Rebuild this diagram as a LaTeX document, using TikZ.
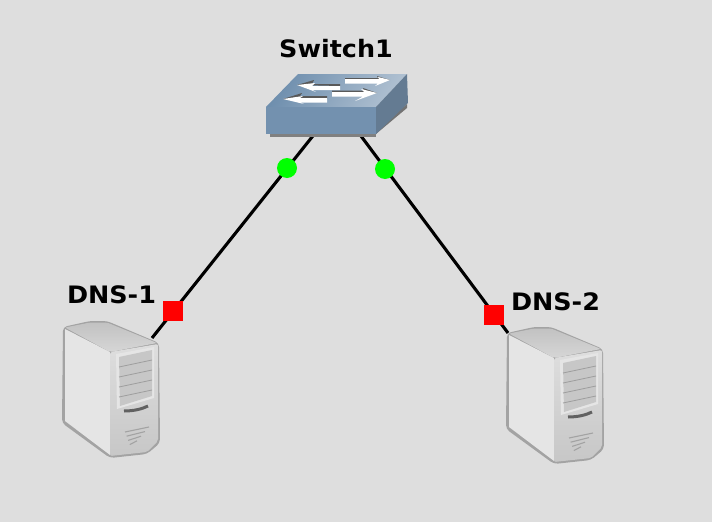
\documentclass[tikz,border=0pt]{standalone}
\usepackage{fontspec}
\setmainfont{DejaVu Sans}
\definecolor{bgc}{HTML}{DEDEDE}
\definecolor{swtopa}{HTML}{6F8FAE}
\definecolor{swtopb}{HTML}{AFC0D1}
\definecolor{swfront}{HTML}{7391AF}
\definecolor{swside}{HTML}{647B92}
\tikzset{
  lbl/.style={font=\bfseries\fontsize{24}{26}\selectfont,text=black,inner sep=0pt,xscale=1.06},
  link/.style={line width=3.1pt,black},
  okdot/.style={circle,fill=green,minimum size=20pt,inner sep=0pt},
  downsq/.style={rectangle,fill=red,minimum size=20pt,inner sep=0pt},
  hitbox/.style={inner sep=0pt,minimum width=96pt,minimum height=136pt},
  arrowtop/.style={fill=white},
  arrowshade/.style={fill=black!65},
  pics/server/.style={code={
    \fill[black!36,rounded corners=4pt] (63,327) -- (90,321) -- (107,321) -- (159,343) -- (160,443) -- (147,454) -- (110,458) -- (62,423) -- cycle;
    \fill[black!10] (65,329) -- (110,352) -- (110,455) -- (65,421) -- cycle;
    \shade[top color=black!24,bottom color=black!16,rounded corners=2pt] (65,327.5) -- (90,322.5) -- (107,322.5) -- (157,343) -- (110,352) -- cycle;
    \shade[top color=black!13,bottom color=black!22,rounded corners=2pt] (110,352) -- (158,344) -- (158,441) -- (147,452) -- (110,456) -- cycle;
    \fill[black!10] (116,354) -- (154,347) -- (154,398) -- (117,409) -- cycle;
    \fill[black!22] (119,357) -- (152,350) -- (152,396) -- (120,406) -- cycle;
    \foreach \d in {0,10,20,30}{\draw[black!38,line width=.8pt] (119,{367+\d}) -- (152,{360+\d});}
    \draw[black!62,line width=3pt] (124,411) .. controls (134,411) and (142,409) .. (148,406);
    \foreach \d in {0,4,8,12}{\draw[black!36,line width=1.1pt] ({125+\d*.4},{432+\d*1.05}) -- ({149-\d*1},{427+\d*1.15});}
  }}
}
\begin{document}
\begin{tikzpicture}[x=1pt,y=-1pt]
\useasboundingbox[fill=bgc] (0,0) rectangle (712,522);
% named anchor nodes
\node[inner sep=0pt,minimum width=110pt,minimum height=27pt] (sw) at (321,120.5) {};
\node[hitbox] (dnsa) at (111,389) {};
\node[hitbox] (dnsb) at (555,395) {};
\coordinate (swl) at (316,132);
\coordinate (swr) at (358,132);
\coordinate (dnsap) at (152,338);
\coordinate (dnsbp) at (508,333);
% connectors
\draw[link] (swl) -- (dnsap);
\draw[link] (swr) -- (dnsbp);
% switch
\fill[black!50] (270,134) rectangle (376,137);
\fill[black!55] (376,134) -- (407,108) -- (407,104) -- (376,130) -- cycle;
\shade[left color=swtopa,right color=swtopb,shading angle=60] (298,74) -- (407,74) -- (376,107) -- (266,107) -- cycle;
\fill[swfront] (266,107) rectangle (376,134);
\fill[swside] (376,107) -- (407,74) -- (408,103) -- (376,134) -- cycle;
% switch arrows
\fill[arrowshade] (297,85) -- (314,80) -- (312,84) -- (340,84) -- (340,86) -- cycle;
\fill[arrowtop] (297,85) -- (316,92) -- (312,90) -- (340,90) -- (340,86) -- (312,86) -- (315,83) -- cycle;
\fill[arrowshade] (345,78) -- (378,78) -- (377,76) -- (390,80) -- (345,80) -- cycle;
\fill[arrowtop] (345,79) -- (345,83.5) -- (378,83.5) -- (375,86) -- (390,80) -- (378,77) -- (379,79) -- cycle;
\fill[arrowshade] (332,90.5) -- (364,90.5) -- (363,88) -- (377,93) -- (332,93) -- cycle;
\fill[arrowtop] (332,92) -- (332,96.5) -- (363,96.5) -- (355,101) -- (377,93) -- (361,89) -- (364,92) -- cycle;
\fill[arrowshade] (283,99) -- (302,93) -- (300,96) -- (327,96) -- (327,99) -- cycle;
\fill[arrowtop] (283,99) -- (304,104) -- (300,102.5) -- (327,102.5) -- (327,98) -- (300,98) -- (303,96) -- cycle;
% servers
\pic {server};
\pic[xshift=444pt,yshift=-6pt] {server};
% interface status markers
\node[okdot] (ga) at (287,168) {};
\node[okdot] (gb) at (385,169) {};
\node[downsq] (ra) at (173,310.5) {};
\node[downsq] (rb) at (494,315) {};
% labels
\node[lbl] (lsw) at (336,49) {Switch1};
\node[lbl] (la) at (111.5,295) {DNS-1};
\node[lbl] (lb) at (555.5,301.5) {DNS-2};
\end{tikzpicture}
\end{document}
